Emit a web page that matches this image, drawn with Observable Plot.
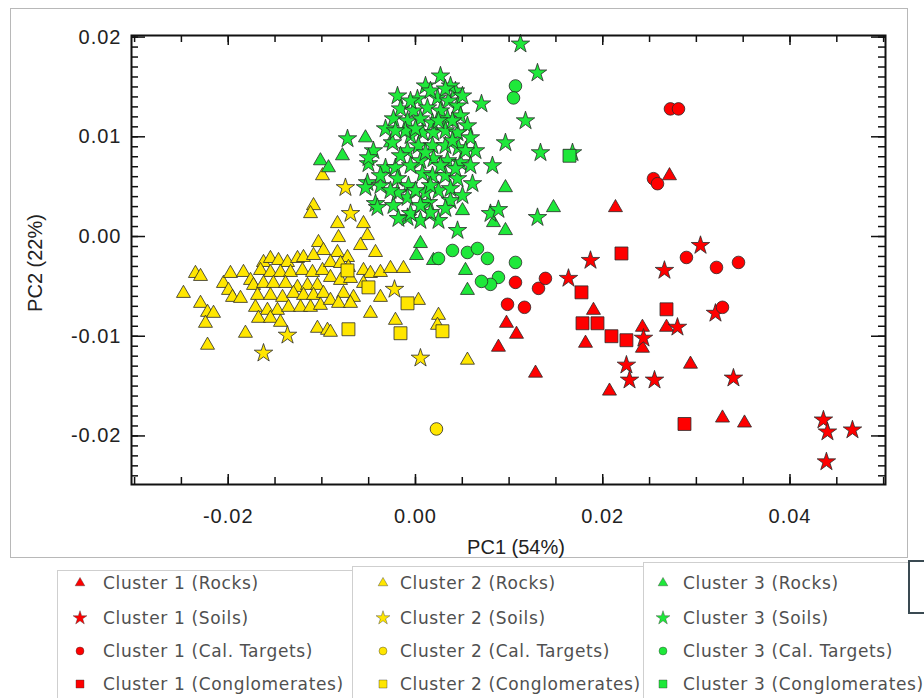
<!DOCTYPE html>
<html><head><meta charset="utf-8">
<script src="https://cdn.jsdelivr.net/npm/d3@7"></script>
<script src="https://cdn.jsdelivr.net/npm/@observablehq/plot@0.6"></script>
<style>
body{margin:0;background:#fff;width:924px;height:698px;overflow:hidden;position:relative;font-family:"Liberation Sans",Arial,sans-serif;}
#fig{position:absolute;left:10px;top:8px;width:896px;height:548px;border:1px solid #b8b8b8;}
#chart{position:absolute;left:0;top:0;}
#chart svg text{letter-spacing:1px;}
.lbl{position:absolute;font-size:20px;color:#222;white-space:nowrap;}
.box{position:absolute;border:1px solid #cfcfcf;background:#fff;}
.item{position:absolute;font-family:"DejaVu Sans",sans-serif;font-size:17px;letter-spacing:0.65px;color:#505050;white-space:nowrap;line-height:20px;}
.item svg{position:absolute;overflow:visible;}
#dark{position:absolute;left:908px;top:560px;width:30px;height:50px;border:2px solid #3a4a52;background:#fff;}
</style></head><body>
<div id="fig"></div>
<div id="chart"></div>
<div class="lbl" style="left:516px;top:547px;transform:translate(-50%,-50%)">PC1 (54%)</div>
<div class="lbl" style="left:35px;top:263px;transform:translate(-50%,-50%) rotate(-90deg)">PC2 (22%)</div>
<div class="box" style="left:57px;top:570px;width:295px;height:140px"></div>
<div class="box" style="left:352px;top:566px;width:291px;height:140px"></div>
<div class="box" style="left:643px;top:562px;width:300px;height:140px"></div>
<div id="dark"></div>
<div id="legend"></div>
<script>
// ---- data (PC1, PC2) ----
const clusters = ["Cluster 1", "Cluster 2", "Cluster 3"];
const clusterColors = ["#ff0000", "#ffe600", "#1ee83a"];
const sampleTypes = ["Rocks", "Soils", "Cal. Targets", "Conglomerates"];
const xTickLabels = [-0.02, 0.00, 0.02, 0.04];
const yTickLabels = [-0.02, -0.01, 0.00, 0.01, 0.02];
const xMinorTicks = [-0.03,-0.025,-0.02,-0.015,-0.01,-0.005,0,0.005,0.01,0.015,0.02,0.025,0.03,0.035,0.04,0.045,0.05];

const c1Rocks = [[0.02713,0.0061],[0.02136,0.0029],[0.00972,-0.0087],[0.01079,-0.0098],[0.00886,-0.0111],[0.01282,-0.0137],[0.01901,-0.0074],[0.01816,-0.0107],[0.02072,-0.0155],[0.02424,-0.0091],[0.02424,-0.0112],[0.02681,-0.0091],[0.02937,-0.0128],[0.03279,-0.0182],[0.03514,-0.0187]];
const c1Soils = [[0.01869,-0.0024],[0.01634,-0.0042],[0.02659,-0.0034],[0.03044,-0.0009],[0.03204,-0.0077],[0.02435,-0.0102],[0.02253,-0.0129],[0.02286,-0.0144],[0.02553,-0.0144],[0.02798,-0.0091],[0.03396,-0.0142],[0.04357,-0.0184],[0.04400,-0.0196],[0.04667,-0.0194],[0.04389,-0.0226]];
const c1Cal = [[0.02723,0.0128],[0.02809,0.0128],[0.02542,0.0058],[0.02585,0.0053],[0.01068,-0.0046],[0.01314,-0.0052],[0.01388,-0.0042],[0.00983,-0.0068],[0.01164,-0.0071],[0.02894,-0.0021],[0.03215,-0.0031],[0.03450,-0.0026],[0.03279,-0.0071]];
const c1Cong = [[0.02200,-0.0017],[0.01773,-0.0056],[0.01784,-0.0087],[0.01944,-0.0087],[0.02093,-0.0100],[0.02253,-0.0104],[0.02681,-0.0073],[0.02873,-0.0188]];

const c2Rocks = [[-0.00993,0.0061],[-0.01089,0.0031],[-0.01121,0.0023],[-0.01036,-0.0006],[-0.00983,-0.0014],[-0.02350,-0.0037],[-0.02296,-0.0040],[-0.02478,-0.0057],[-0.02296,-0.0067],[-0.02221,-0.0076],[-0.02157,-0.0077],[-0.02243,-0.0087],[-0.02221,-0.0109],[-0.01816,-0.0097],[-0.02051,-0.0047],[-0.01976,-0.0037],[-0.01837,-0.0036],[-0.01762,-0.0044],[-0.01997,-0.0054],[-0.01954,-0.0061],[-0.01869,-0.0062],[-0.01623,-0.0026],[-0.01549,-0.0022],[-0.01463,-0.0024],[-0.01367,-0.0026],[-0.01260,-0.0022],[-0.01196,-0.0021],[-0.01089,-0.0019],[-0.01655,-0.0034],[-0.01549,-0.0036],[-0.01442,-0.0036],[-0.01335,-0.0036],[-0.01207,-0.0034],[-0.01100,-0.0036],[-0.00993,-0.0034],[-0.01730,-0.0049],[-0.01623,-0.0047],[-0.01517,-0.0047],[-0.01388,-0.0047],[-0.01260,-0.0051],[-0.01153,-0.0049],[-0.01047,-0.0049],[-0.01687,-0.0059],[-0.01549,-0.0059],[-0.01420,-0.0061],[-0.01303,-0.0057],[-0.01196,-0.0059],[-0.01089,-0.0059],[-0.00983,-0.0057],[-0.01709,-0.0071],[-0.01581,-0.0074],[-0.01474,-0.0074],[-0.01356,-0.0071],[-0.01228,-0.0071],[-0.01121,-0.0071],[-0.01015,-0.0069],[-0.01677,-0.0082],[-0.01549,-0.0082],[-0.01442,-0.0086],[-0.01047,-0.0092],[-0.00940,-0.0094],[-0.00833,0.0013],[-0.00822,-0.0001],[-0.00555,0.0013],[-0.00513,0.0001],[-0.00587,-0.0009],[-0.00427,-0.0016],[-0.00833,-0.0016],[-0.00726,-0.0021],[-0.00908,-0.0026],[-0.00801,-0.0027],[-0.00716,-0.0031],[-0.00555,-0.0034],[-0.00481,-0.0037],[-0.00374,-0.0036],[-0.00267,-0.0032],[-0.00128,-0.0032],[-0.00908,-0.0041],[-0.00801,-0.0044],[-0.00694,-0.0042],[-0.00555,-0.0047],[-0.00374,-0.0061],[-0.00769,-0.0057],[-0.00662,-0.0061],[-0.00908,-0.0064],[-0.00822,-0.0067],[-0.00694,-0.0067],[-0.00481,-0.0077],[-0.00908,-0.0096],[-0.00214,-0.0084],[0.00032,-0.0064],[0.00246,-0.0079],[0.00235,-0.0089],[0.00555,-0.0124]];
const c2Soils = [[-0.00748,0.0049],[-0.00694,0.0023],[-0.00224,-0.0053],[-0.01367,-0.0099],[-0.01623,-0.0117],[0.00053,-0.0122]];
const c2Cal = [[0.00224,-0.0193]];
const c2Cong = [[-0.00726,-0.0034],[-0.00502,-0.0051],[-0.00085,-0.0067],[-0.00716,-0.0093],[-0.00160,-0.0097],[0.00288,-0.0095]];

const c3Rocks = [[-0.01015,0.0076],[-0.00929,0.0069],[-0.00780,0.0081],[-0.00534,0.0099],[-0.00267,0.0094],[0.00053,-0.0007],[0.00011,-0.0019],[0.00192,-0.0024],[0.00502,0.0026],[0.00534,-0.0034],[0.00555,-0.0054],[0.00961,0.0049],[0.01474,0.0029],[0.00961,0.0006],[0.00833,0.0014]];
const c3Soils = [[0.01121,0.0193],[0.01303,0.0164],[0.00705,0.0133],[0.01175,0.0116],[0.00961,0.0094],[0.01335,0.0084],[0.00822,0.0071],[0.01677,0.0084],[0.01303,0.0019],[0.00801,0.0023],[0.00886,0.0027],[0.00449,0.0006],[0.00609,0.0053],[0.00246,0.0016],[0.00053,0.0016],[-0.00085,0.0019],[0.00267,0.0161],[0.00107,0.0151],[0.00427,0.0146],[-0.00192,0.0141],[0.00021,0.0138],[0.00235,0.0139],[0.00352,0.0136],[-0.00160,0.0128],[-0.00021,0.0126],[0.00128,0.0129],[0.00267,0.0126],[0.00449,0.0131],[-0.00235,0.0118],[-0.00085,0.0116],[0.00053,0.0118],[0.00182,0.0114],[0.00342,0.0118],[0.00481,0.0121],[0.00555,0.0111],[-0.00246,0.0094],[-0.00053,0.0101],[0.00075,0.0104],[0.00192,0.0104],[0.00320,0.0106],[0.00449,0.0104],[0.00587,0.0099],[-0.00449,0.0086],[-0.00085,0.0086],[0.00032,0.0091],[0.00182,0.0091],[0.00320,0.0091],[0.00459,0.0089],[0.00641,0.0086],[-0.00502,0.0073],[-0.00320,0.0069],[-0.00214,0.0069],[0.00053,0.0076],[0.00192,0.0078],[0.00342,0.0076],[0.00481,0.0074],[-0.00513,0.0054],[-0.00374,0.0051],[-0.00192,0.0058],[-0.00075,0.0051],[0.00075,0.0063],[0.00182,0.0061],[0.00320,0.0061],[0.00449,0.0058],[-0.00427,0.0033],[-0.00235,0.0031],[-0.00085,0.0039],[0.00139,0.0034],[0.00246,0.0046],[-0.00053,0.0023],[0.00160,0.0024],[-0.00726,0.0098],[-0.00534,0.0049],[-0.00406,0.0029],[-0.00192,0.0044],[0.00374,0.0151],[-0.00107,0.0106],[0.00395,0.0116],[0.00107,0.0044],[0.00374,0.0036],[-0.00320,0.0108],[-0.00502,0.0079],[0.00160,0.0146],[0.00320,0.0148],[-0.00053,0.0136],[0.00502,0.0141],[-0.00214,0.0106],[0.00000,0.0108],[0.00246,0.0116],[0.00395,0.0096],[0.00534,0.0086],[-0.00160,0.0081],[0.00107,0.0084],[0.00267,0.0071],[0.00427,0.0068],[0.00587,0.0071],[-0.00267,0.0046],[0.00000,0.0046],[0.00160,0.0051],[0.00374,0.0048],[0.00502,0.0041],[0.00053,0.0031],[0.00320,0.0028],[-0.00182,0.0018],[-0.00374,0.0061],[-0.00053,0.0071]];
const c3Cal = [[0.01068,0.0151],[0.01047,0.0139],[0.00395,-0.0014],[0.00555,-0.0016],[0.00662,-0.0012],[0.00769,-0.0022],[0.01068,-0.0026],[0.00886,-0.0041],[0.00801,-0.0048],[0.00705,-0.0045],[0.00246,-0.0022]];
const c3Cong = [[0.01645,0.0081]];

const groups = [
  ["Cluster 2", [c2Rocks, c2Soils, c2Cal, c2Cong]],
  ["Cluster 3", [c3Rocks, c3Soils, c3Cal, c3Cong]],
  ["Cluster 1", [c1Rocks, c1Soils, c1Cal, c1Cong]]
];
const points = [];
for (const [cl, arrs] of groups) arrs.forEach((arr, i) => arr.forEach(([x, y]) => points.push({x, y, cluster: cl, type: sampleTypes[i]})));

const symbols = {"Rocks": "triangle", "Soils": "star", "Cal. Targets": "circle", "Conglomerates": "square"};
const radii = {"Rocks": 5.2, "Soils": 5.8, "Cal. Targets": 6.3, "Conglomerates": 7.3};

const W = 924, H = 560, mL = 131, mR = 39, mT = 35, mB = 76;
const pw = W - mL - mR, ph = H - mT - mB;
const yMinorTicks = d3.range(-24, 21).map(d => d / 1000);

const dotMarks = [];
for (const [cl] of groups) for (const t of sampleTypes) {
  dotMarks.push(Plot.dot(points.filter(p => p.cluster === cl && p.type === t), {
    x: "x", y: "y", symbol: () => symbols[t], r: radii[t], fill: "cluster",
    stroke: "#2a2a2a", strokeWidth: 0.8
  }));
}
const fmt = d => d.toFixed(2);

const chart = Plot.plot({
  width: W, height: H, marginLeft: mL, marginRight: mR, marginTop: mT, marginBottom: mB,
  style: {background: "transparent", fontSize: "20px", fontFamily: "'Liberation Sans', Arial, sans-serif", color: "#222"},
  x: {domain: [-0.03033, 0.0502], ticks: xTickLabels, tickFormat: fmt, tickSize: 0, tickPadding: 24, label: null},
  y: {domain: [-0.02487, 0.02016], ticks: yTickLabels, tickFormat: fmt, tickSize: 0, tickPadding: 10, label: null},
  color: {domain: clusters, range: clusterColors},
  symbol: {type: "identity"},
  marks: [
    ...dotMarks,
    Plot.tickX(xMinorTicks, {x: d => d, insetTop: ph - 7, stroke: "#111", strokeWidth: 1.5}),
    Plot.tickX(xMinorTicks, {x: d => d, insetBottom: ph - 7, stroke: "#111", strokeWidth: 1.5}),
    Plot.tickX(xTickLabels, {x: d => d, insetTop: ph - 10, stroke: "#111", strokeWidth: 1.5}),
    Plot.tickX(xTickLabels, {x: d => d, insetBottom: ph - 10, stroke: "#111", strokeWidth: 1.5}),
    Plot.tickY(yMinorTicks, {y: d => d, insetRight: pw - 7, stroke: "#111", strokeWidth: 1.5}),
    Plot.tickY(yMinorTicks, {y: d => d, insetLeft: pw - 7, stroke: "#111", strokeWidth: 1.5}),
    Plot.tickY(yTickLabels, {y: d => d, insetRight: pw - 14, stroke: "#111", strokeWidth: 1.5}),
    Plot.tickY(yTickLabels, {y: d => d, insetLeft: pw - 14, stroke: "#111", strokeWidth: 1.5}),
    Plot.frame({stroke: "#111", strokeWidth: 2})
  ]
});
document.getElementById("chart").appendChild(chart);

// ---- legend ----
const legend = document.getElementById("legend");
const colX = [[80, 103], [383, 400], [663, 683]];
const rowY = [583, 618, 651, 684];
const legSym = {"Rocks": [d3.symbolTriangle, 40], "Soils": [d3.symbolStar, 60], "Cal. Targets": [d3.symbolCircle, 50], "Conglomerates": [d3.symbolSquare, 64]};
clusters.forEach((cl, ci) => {
  sampleTypes.forEach((t, ti) => {
    const div = document.createElement("div");
    div.className = "item";
    div.style.left = colX[ci][1] + "px";
    div.style.top = (rowY[ti] - 10) + "px";
    div.textContent = `${cl} (${t})`;
    legend.appendChild(div);
    const svg = d3.create("svg").attr("width", 1).attr("height", 1)
      .style("left", (colX[ci][0] - colX[ci][1]) + "px").style("top", "10px");
    svg.append("path").attr("d", d3.symbol(legSym[t][0], legSym[t][1])())
      .attr("fill", clusterColors[ci]).attr("stroke", "#333").attr("stroke-width", 0.4);
    div.appendChild(svg.node());
  });
});
</script>
</body></html>
